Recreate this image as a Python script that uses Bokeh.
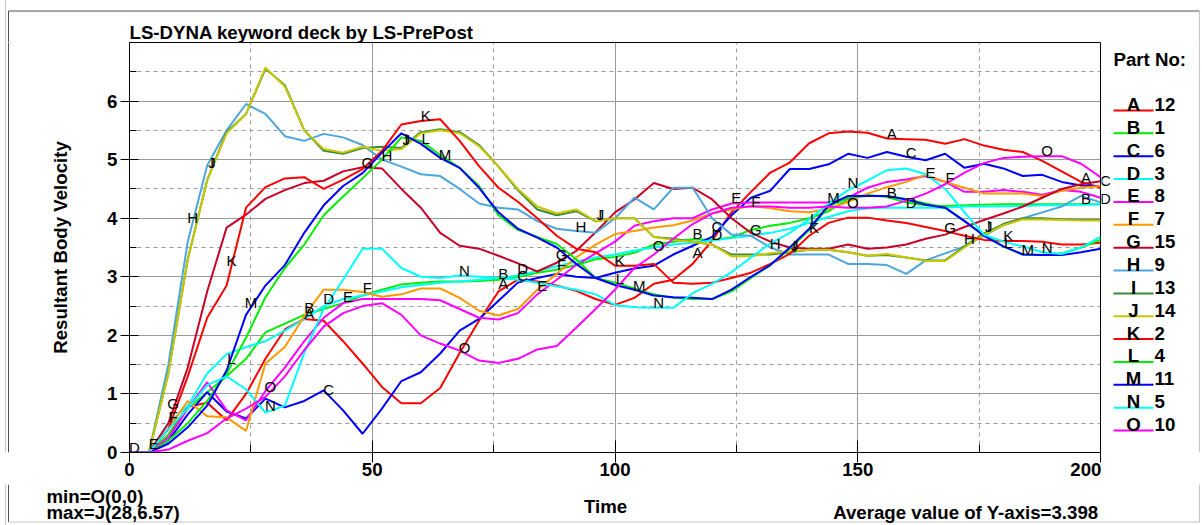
import numpy as np
from bokeh.plotting import figure
from bokeh.layouts import row, column
from bokeh.models import ColumnDataSource, LabelSet, FixedTicker, Range1d
from bokeh.core.properties import value
from bokeh.embed import file_html
from bokeh.resources import INLINE

# ---- data -------------------------------------------------------------
time = list(range(0, 201, 4))

part_letters = ["A", "B", "C", "D", "E", "F", "G", "H", "I", "J", "K", "L", "M", "N", "O"]
part_numbers = ["12", "1", "6", "3", "8", "7", "15", "9", "13", "14", "2", "4", "11", "5", "10"]
part_colors = ["#ff0000", "#00ee00", "#0000ff", "#00ffff", "#ff00ff", "#ff9900", "#c80028",
               "#4da6dc", "#3a8a3a", "#c8c800", "#ff0000", "#00ee00", "#0000ff", "#00ffff", "#ff00ff"]

vel_A = [0, 0, 0.3, 0.78, 0.85, 0.55, 1.0, 1.6, 2.1, 2.28,
         2.25, 1.9, 1.52, 1.12, 0.84, 0.84, 1.1, 1.7, 2.25, 2.75,
         2.95, 2.92, 2.85, 2.76, 2.62, 2.52, 2.64, 2.88, 2.95, 3.22,
         3.62, 4.1, 4.45, 4.78, 4.95, 5.28, 5.45, 5.48, 5.46, 5.36,
         5.35, 5.34, 5.27, 5.35, 5.24, 5.17, 5.13, 4.98, 4.8, 4.62,
         4.52]
vel_B = [0, 0, 0.3, 0.75, 1.03, 1.3, 1.6, 2.05, 2.2, 2.35,
         2.45, 2.55, 2.68, 2.78, 2.87, 2.9, 2.92, 2.92, 2.93, 2.95,
         3.0, 3.07, 3.12, 3.2, 3.3, 3.34, 3.41, 3.55, 3.6, 3.64,
         3.63, 3.67, 3.8, 3.87, 3.92, 4.0, 4.12, 4.33, 4.4, 4.36,
         4.27, 4.22, 4.21, 4.22, 4.23, 4.24, 4.24, 4.24, 4.24, 4.24,
         4.24]
vel_C = [0, 0, 0.2, 0.65, 1.03, 0.7, 0.58, 0.92, 0.77, 0.88,
         1.06, 0.72, 0.32, 0.75, 1.22, 1.37, 1.69, 2.08, 2.28, 2.59,
         2.9, 2.98, 3.05, 3.0, 2.98, 3.07, 3.14, 3.19, 3.38, 3.53,
         3.68, 4.05, 4.35, 4.47, 4.84, 4.84, 4.92, 5.1, 5.03, 5.13,
         5.05, 4.99, 5.1, 4.86, 4.93, 4.85, 4.72, 4.74, 4.62, 4.56,
         4.55]
vel_D = [0, 0, 0.5, 0.8, 1.35, 1.68, 1.8, 1.9, 2.08, 2.28,
         2.5, 2.62, 2.68, 2.75, 2.82, 2.86, 2.9, 2.92, 2.95, 2.98,
         3.02, 3.1, 3.18, 3.26, 3.33, 3.38, 3.45, 3.5, 3.55, 3.58,
         3.62, 3.66, 3.7, 3.75, 3.82, 3.92, 4.02, 4.12, 4.17, 4.18,
         4.18, 4.18, 4.18, 4.2, 4.2, 4.2, 4.21, 4.22, 4.22, 4.23,
         4.24]
vel_E = [0, 0, 0.25, 0.75, 1.2, 0.72, 0.55, 1.05, 1.45, 1.9,
         2.3, 2.55, 2.62, 2.62, 2.62, 2.62, 2.6, 2.45, 2.3, 2.27,
         2.38, 2.7, 2.95, 3.2, 3.4, 3.6, 3.87, 3.95, 4.0, 4.0,
         4.15, 4.25, 4.27, 4.27, 4.27, 4.27, 4.27, 4.35, 4.52, 4.62,
         4.66, 4.72, 4.62, 4.45, 4.45, 4.48, 4.45, 4.4, 4.48, 4.45,
         4.35]
vel_F = [0, 0, 0.4, 0.88, 0.62, 0.6, 0.37, 1.52, 1.8, 2.33,
         2.78, 2.78, 2.74, 2.66, 2.7, 2.8, 2.8, 2.64, 2.42, 2.34,
         2.45, 2.78, 3.05, 3.33, 3.55, 3.73, 3.78, 3.84, 3.88, 3.96,
         4.08, 4.15, 4.21, 4.17, 4.12, 4.1, 4.16, 4.28, 4.42, 4.53,
         4.62, 4.74, 4.62, 4.52, 4.42, 4.42, 4.42, 4.38, 4.47, 4.52,
         4.55]
vel_G = [0, 0, 0.5, 1.45, 2.75, 3.84, 4.06, 4.33, 4.48, 4.6,
         4.64, 4.8, 4.87, 4.85, 4.5, 4.18, 3.75, 3.53, 3.48, 3.36,
         3.23, 3.09, 3.24, 3.44, 3.76, 4.1, 4.32, 4.6, 4.5, 4.52,
         4.32, 4.0, 3.75, 3.6, 3.5, 3.48, 3.48, 3.55, 3.48, 3.5,
         3.55, 3.65, 3.72, 3.85, 3.97, 4.08, 4.2, 4.35, 4.5, 4.58,
         4.63]
vel_H = [0, 0, 1.5, 3.6, 4.9, 5.5, 5.95, 5.78, 5.4, 5.32,
         5.44, 5.38, 5.25, 5.0, 4.88, 4.75, 4.72, 4.5, 4.25, 4.18,
         4.15, 3.95, 3.82, 3.78, 3.75, 4.0, 4.35, 4.15, 4.52, 4.52,
         4.0, 3.72, 3.7, 3.5, 3.38, 3.38, 3.38, 3.22, 3.22, 3.2,
         3.05, 3.28, 3.4, 3.52, 3.7, 3.88, 4.0, 4.1, 4.2, 4.38,
         4.27]
vel_I = [0, 0, 1.35, 3.3, 4.65, 5.47, 5.78, 6.55, 6.27, 5.5,
         5.15, 5.1, 5.2, 5.22, 5.2, 5.47, 5.52, 5.47, 5.25, 4.88,
         4.48, 4.15, 4.05, 4.12, 3.95, 4.0, 4.0, 3.68, 3.65, 3.6,
         3.55, 3.38, 3.38, 3.38, 3.42, 3.46, 3.46, 3.42, 3.36, 3.37,
         3.33, 3.28, 3.28, 3.52, 3.74, 3.9, 4.0, 4.0, 3.98, 3.97,
         3.97]
vel_J = [0, 0, 1.35, 3.3, 4.65, 5.45, 5.78, 6.57, 6.25, 5.5,
         5.18, 5.12, 5.22, 5.15, 5.18, 5.45, 5.5, 5.45, 5.23, 4.88,
         4.5, 4.2, 4.08, 4.15, 3.95, 4.0, 4.0, 3.68, 3.63, 3.6,
         3.55, 3.35, 3.35, 3.4, 3.43, 3.46, 3.46, 3.42, 3.36, 3.39,
         3.33, 3.27, 3.27, 3.5, 3.72, 3.88, 3.98, 3.98, 3.97, 3.96,
         3.96]
vel_K = [0, 0, 0.4, 1.3, 2.3, 2.85, 4.18, 4.53, 4.68, 4.7,
         4.5, 4.66, 4.84, 5.15, 5.6, 5.66, 5.69, 5.32, 4.89, 4.52,
         4.28, 4.0, 3.7, 3.48, 3.42, 3.19, 3.19, 3.22, 2.9, 2.88,
         2.9, 2.98, 3.07, 3.22, 3.39, 3.7, 3.92, 4.01, 4.01, 3.96,
         3.92, 3.85, 3.78, 3.7, 3.63, 3.61, 3.61, 3.6, 3.55, 3.55,
         3.58]
vel_L = [0, 0, 0.2, 0.5, 0.88, 1.35, 1.96, 2.65, 3.15, 3.55,
         4.05, 4.37, 4.68, 5.0, 5.38, 5.32, 5.08, 4.86, 4.55, 4.05,
         3.8, 3.68, 3.56, 3.3, 2.98, 2.9, 2.8, 2.7, 2.64, 2.62,
         2.62, 2.75, 2.98, 3.2, 3.48, 3.8, 4.2, 4.36, 4.38, 4.38,
         4.33, 4.25, 4.18, 3.95, 3.72, 3.52, 3.38, 3.37, 3.4, 3.5,
         3.63]
vel_M = [0, 0, 0.15, 0.43, 0.8, 1.4, 2.35, 2.85, 3.2, 3.75,
         4.22, 4.55, 4.77, 5.12, 5.45, 5.27, 5.03, 4.86, 4.52, 4.1,
         3.82, 3.67, 3.5, 3.22, 2.98, 2.86, 2.78, 2.68, 2.65, 2.64,
         2.62, 2.78, 3.0, 3.2, 3.5, 3.82, 4.22, 4.38, 4.38, 4.38,
         4.32, 4.23, 4.18, 3.95, 3.7, 3.52, 3.38, 3.37, 3.37, 3.42,
         3.48]
vel_N = [0, 0, 0.4, 0.75, 1.15, 1.3, 1.08, 0.68, 0.8, 1.7,
         2.45, 2.95, 3.48, 3.48, 3.15, 3.0, 2.98, 3.02, 3.0, 2.98,
         2.95, 2.9, 2.84, 2.78, 2.7, 2.52, 2.48, 2.47, 2.47, 2.72,
         2.88, 3.08, 3.33, 3.57, 3.75, 3.98, 4.25, 4.48, 4.64, 4.82,
         4.85, 4.75, 4.5, 4.1, 3.72, 3.6, 3.52, 3.42, 3.39, 3.5,
         3.68]
vel_O = [0, 0, 0.05, 0.2, 0.33, 0.58, 0.75, 0.95, 1.3, 1.75,
         2.15, 2.38, 2.5, 2.55, 2.35, 2.0, 1.86, 1.74, 1.57, 1.53,
         1.6, 1.76, 1.82, 2.13, 2.45, 2.78, 3.15, 3.38, 3.65, 3.9,
         4.08, 4.18, 4.2, 4.2, 4.18, 4.18, 4.2, 4.18, 4.18, 4.2,
         4.3, 4.42, 4.58, 4.78, 4.94, 5.03, 5.05, 5.06, 5.06, 4.93,
         4.7]

velocities = [vel_A, vel_B, vel_C, vel_D, vel_E, vel_F, vel_G, vel_H,
              vel_I, vel_J, vel_K, vel_L, vel_M, vel_N, vel_O]

# times at which each curve carries its identifying letter
tag_times = [
    [37, 77, 117, 157, 197],
    [37, 77, 117, 157, 197],
    [41, 81, 121, 161, 201],
    [1, 41, 81, 121, 161, 201],
    [5, 45, 85, 125, 165],
    [9, 49, 89, 129, 169],
    [9, 49, 89, 129, 169],
    [13, 53, 93, 133, 173],
    [17, 57, 97, 137, 177],
    [17, 57, 97, 137, 177],
    [21, 61, 101, 141, 181],
    [21, 61, 101, 141, 181],
    [25, 65, 105, 145, 185],
    [29, 69, 109, 149, 189],
    [29, 69, 109, 149, 189],
]

x_ticks = [0, 50, 100, 150, 200]
x_minor = [25, 75, 125, 175]
y_ticks = [0, 1, 2, 3, 4, 5, 6]
y_minor = [0.5, 1.5, 2.5, 3.5, 4.5, 5.5, 6.5]

title_text = "LS-DYNA keyword deck by LS-PrePost"
x_note = "Time"
min_note = "min=O(0,0)"
max_note = "max=J(28,6.57)"
avg_note = "Average value of Y-axis=3.398"
legend_title = "Part No:"

FONT = "Liberation Sans"
BIG = "14pt"
MID_SHIFT = 6.5         # baseline-to-middle distance of the 14pt text
DARK_EDGE = "#505050"
LIGHT_EDGE = "#c4c4c4"

# page geometry (canvas pixels)
W, H = 1202, 525
LEFT_W = 20                            # strip holding the left window edge
FL, FR, FT, FB = 129, 1100, 42, 452    # plotting frame
ROW_BOTTOM = 484                       # lower edge of the row holding the plot
BOTTOM_PAD = ROW_BOTTOM - FB           # room for the time-axis tick labels


def strip(x0, x1, y0, y1, frame_y=None):
    """A blank panel whose data coordinates are canvas pixels (y downwards).

    With frame_y, the drawable part is limited to that vertical span so that it
    lines up with the plotting frame next to it."""
    fy0, fy1 = frame_y if frame_y else (y0, y1)
    f = figure(width=x1 - x0, height=y1 - y0, output_backend="svg", toolbar_location=None,
               x_range=Range1d(x0, x1), y_range=Range1d(fy1, fy0),
               x_axis_type=None, y_axis_type=None, min_border=0)
    if frame_y:
        f.min_border_top = fy0 - y0
        f.min_border_bottom = y1 - fy1
    f.grid.visible = False
    f.outline_line_color = None
    f.background_fill_color = "white"
    f.border_fill_color = "white"
    return f


def put_text(f, xs, ys, texts, align="left", size=BIG, bold=True):
    # ys are vertical text centres
    f.text(x=xs, y=ys, text=texts, text_font=value(FONT), text_font_size=value(size),
           text_font_style="bold" if bold else "normal", text_color="#000000",
           text_align=align, text_baseline="middle")


def edge_line(f, xs, ys, color):
    f.line(x=xs, y=ys, line_color=color, line_width=1)


# ---- main plot ------------------------------------------------------------
p = figure(width=FR + 1 - LEFT_W, height=ROW_BOTTOM - FT,
           output_backend="svg", toolbar_location=None,
           x_range=Range1d(0, 200), y_range=Range1d(0, 7),
           min_border_left=FL - LEFT_W, min_border_right=1,
           min_border_top=0, min_border_bottom=BOTTOM_PAD)
p.background_fill_color = "white"
p.border_fill_color = "white"
p.outline_line_color = "#000000"
p.outline_line_width = 1

xa = p.xaxis[0]
xa.ticker = FixedTicker(ticks=x_ticks, minor_ticks=x_minor)
xa.major_tick_in = 12
xa.major_tick_out = 10
xa.minor_tick_in = 8
xa.minor_tick_out = 0
xa.major_label_standoff = 0

ya = p.yaxis[0]
ya.ticker = FixedTicker(ticks=y_ticks, minor_ticks=y_minor)
ya.major_tick_in = 9
ya.major_tick_out = 9
ya.minor_tick_in = 7
ya.minor_tick_out = 0
ya.major_label_standoff = 3
ya.axis_label = "Resultant Body Velocity"
ya.axis_label_standoff = 33

for ax in (xa, ya):
    ax.axis_line_color = "#000000"
    ax.major_tick_line_color = "#000000"
    ax.minor_tick_line_color = "#000000"
    ax.major_label_text_font = FONT
    ax.major_label_text_font_size = BIG
    ax.major_label_text_font_style = "bold"
    ax.major_label_text_color = "#000000"
    ax.axis_label_text_font = FONT
    ax.axis_label_text_font_size = BIG
    ax.axis_label_text_font_style = "bold"
    ax.axis_label_text_color = "#000000"

for g in (p.xgrid[0], p.ygrid[0]):
    g.grid_line_color = "#9a9a9a"
    g.grid_line_width = 1
    g.minor_grid_line_color = "#9a9a9a"
    g.minor_grid_line_dash = "4 4"
    g.minor_grid_line_width = 1

for vals, col in zip(velocities, part_colors):
    p.line(time, vals, line_color=col, line_width=2)

tag_x, tag_y, tag_txt = [], [], []
edge_x, edge_y, edge_txt = [], [], []
for letter, vals, times in zip(part_letters, velocities, tag_times):
    for tt in times:
        yy = float(np.interp(tt, time, vals))
        if tt > 200:
            edge_x.append(tt)
            edge_y.append(yy)
            edge_txt.append(letter)
        else:
            tag_x.append(tt)
            tag_y.append(yy)
            tag_txt.append(letter)
p.add_layout(LabelSet(x="x", y="y", text="text",
                      source=ColumnDataSource(dict(x=tag_x, y=tag_y, text=tag_txt)),
                      text_font=value(FONT), text_font_size=value("15px"),
                      text_color="#000000", text_align="center",
                      text_baseline="alphabetic"))


# the plot's linear scales, for the few letters that sit just past the right edge
def to_px_x(t):
    return FL + t * (FR - FL) / 200.0


def to_px_y(v):
    return FB - v * (FB - FT) / 7.0


# ---- header: window edge and title ---------------------------------------------
top = strip(0, W, 0, FT)
edge_line(top, [8, W - 3], [10.5, 10.5], DARK_EDGE)
edge_line(top, [5, 5], [0, FT], LIGHT_EDGE)
edge_line(top, [8, 8], [10.5, FT], DARK_EDGE)
edge_line(top, [W - 3, W - 3], [10.5, FT], LIGHT_EDGE)
put_text(top, [FL], [38.5 - MID_SHIFT], [title_text])

# ---- left window edge ------------------------------------------------------
left = strip(0, LEFT_W, FT, ROW_BOTTOM, frame_y=(FT, FB))
edge_line(left, [5, 5], [FT, FB], LIGHT_EDGE)
edge_line(left, [8, 8], [FT, FB], DARK_EDGE)

# ---- part legend on the right -----------------------------------------------
leg = strip(FR + 1, W, FT, ROW_BOTTOM, frame_y=(FT, FB))
edge_line(leg, [W - 3, W - 3], [FT, FB], LIGHT_EDGE)
put_text(leg, [1113], [65 - MID_SHIFT], [legend_title])
row_y = [110 + i * 22.86 for i in range(len(part_letters))]
leg.segment(x0=[1113] * len(row_y), y0=row_y, x1=[1153] * len(row_y), y1=row_y,
            line_color=part_colors, line_width=2)
put_text(leg, [1133] * len(row_y), [yy + 0.5 - MID_SHIFT for yy in row_y], part_letters,
         align="center")
put_text(leg, [1154] * len(row_y), [yy + 0.5 - MID_SHIFT for yy in row_y], part_numbers)
put_text(leg, [to_px_x(t) for t in edge_x], [to_px_y(v) - 5.2 for v in edge_y], edge_txt,
         align="center", size="15px", bold=False)

# ---- notes under the plot ---------------------------------------------------
bot = strip(0, W, ROW_BOTTOM, H)
edge_line(bot, [5, 5], [ROW_BOTTOM, H], LIGHT_EDGE)
edge_line(bot, [8, 8], [ROW_BOTTOM, 521.5], DARK_EDGE)
edge_line(bot, [W - 3, W - 3], [ROW_BOTTOM, 521.5], LIGHT_EDGE)
edge_line(bot, [8, W - 3], [521.5, 521.5], LIGHT_EDGE)
put_text(bot, [46, 46], [502 - MID_SHIFT, 518 - MID_SHIFT], [min_note, max_note])
put_text(bot, [605], [512.5 - MID_SHIFT], [x_note], align="center")
put_text(bot, [1098], [518 - MID_SHIFT], [avg_note], align="right")

page = column(top, row(left, p, leg), bot, spacing=0)

open("out.html", "w").write(file_html(page, INLINE))
